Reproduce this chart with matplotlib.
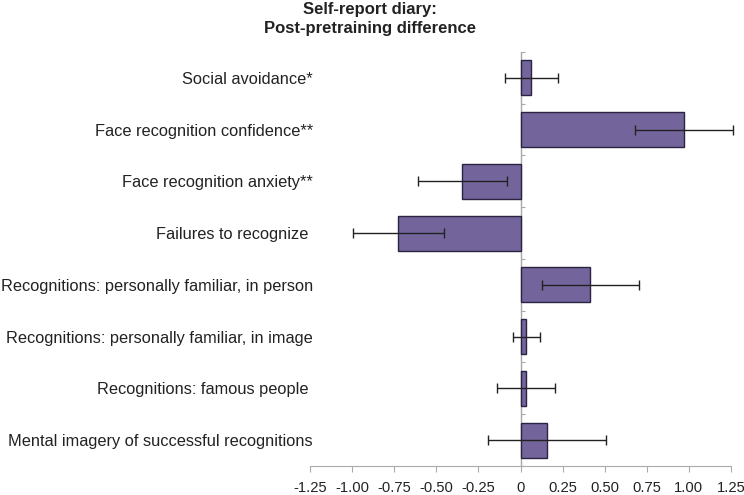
import numpy as np
import matplotlib.pyplot as plt

plt.rcParams['font.family'] = ['Liberation Sans', 'DejaVu Sans']

labels = ['Social avoidance*',
          'Face recognition confidence**',
          'Face recognition anxiety**',
          'Failures to recognize ',
          'Recognitions: personally familiar, in person',
          'Recognitions: personally familiar, in image',
          'Recognitions: famous people ',
          'Mental imagery of successful recognitions']
means = [0.065, 0.97, -0.345, -0.725, 0.415, 0.033, 0.033, 0.157]
errs = [0.16, 0.29, 0.265, 0.27, 0.29, 0.08, 0.17, 0.35]
xticks = [-1.25, -1.0, -0.75, -0.5, -0.25, 0, 0.25, 0.5, 0.75, 1.0, 1.25]
xticklabels = ['-1.25', '-1.00', '-0.75', '-0.50', '-0.25', '0',
               '0.25', '0.50', '0.75', '1.00', '1.25']

fig = plt.figure(figsize=(7.44, 4.95), dpi=100)
ax = fig.add_axes([0.4167, 0.0586, 0.5658, 0.8364])

y = np.arange(len(labels))
ax.axvline(0, color='#a8a8a8', linewidth=1.0, zorder=1)
ax.barh(y, means, height=0.68, color='#73649b', edgecolor='#2a2342',
        linewidth=1.0, zorder=2)
eb = ax.errorbar(means, y, xerr=errs, fmt='none', ecolor='#222222',
                 elinewidth=1.0, capsize=3.5, capthick=1.0, zorder=3)
for art in eb.lines[1] + eb.lines[2]:
    art.set_clip_on(False)

ax.set_xlim(-1.25, 1.25)
ax.set_ylim(len(labels) - 0.5, -0.5)
ax.set_xticks(xticks)
ax.set_xticklabels(xticklabels, fontsize=10.6, color='#222222')
ax.set_yticks(y)
ax.set_yticklabels(labels, fontsize=11.8, color='#222222')
ax.tick_params(axis='y', length=0, pad=-2)
ax.tick_params(axis='x', length=4, color='#aaaaaa', pad=7)

for s in ['top', 'right', 'left']:
    ax.spines[s].set_visible(False)
ax.spines['bottom'].set_color('#aaaaaa')

# ticks between categories on the zero line
sec = ax.secondary_yaxis(0.5)
for s in sec.spines.values():
    s.set_visible(False)
sec.set_yticks(np.arange(len(labels) + 1) - 0.5)
sec.set_yticklabels([])
sec.tick_params(length=3, color='#a8a8a8')

fig.suptitle('Self-report diary:\nPost-pretraining difference', x=0.497,
             y=0.995, fontsize=12, fontweight='bold', linespacing=1.3,
             color='#222222')

fig.savefig('out.png', dpi=100)
